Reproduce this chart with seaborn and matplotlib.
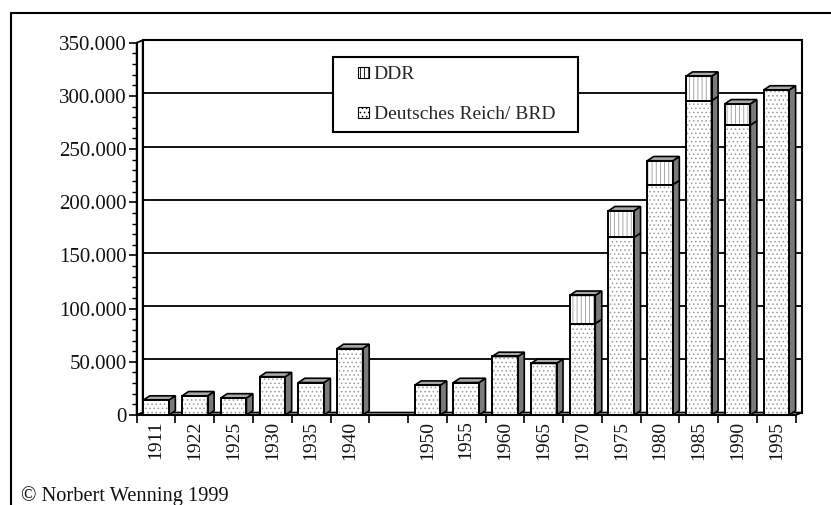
import matplotlib

matplotlib.use("Agg")
import matplotlib.pyplot as plt
from matplotlib.legend_handler import HandlerPatch
from matplotlib.lines import Line2D
from matplotlib.patches import Patch, Polygon, Rectangle
from matplotlib.ticker import FixedLocator, FuncFormatter, MultipleLocator
import pandas as pd
import seaborn as sns

# values
YEARS = ["1911", "1922", "1925", "1930", "1935", "1940", "", "1950", "1955",
         "1960", "1965", "1970", "1975", "1980", "1985", "1990", "1995"]
BRD = [14000, 18000, 16000, 36000, 30500, 62500, 0, 28000, 30500,
       55000, 48500, 86000, 167000, 216500, 295500, 272500, 305500]
DDR = [0, 0, 0, 0, 0, 0, 0, 0, 0,
       0, 0, 26500, 25000, 22500, 23000, 20000, 0]

LABEL_DDR = "DDR"
LABEL_BRD = "Deutsches Reich/ BRD"
COPYRIGHT = "© Norbert Wenning 1999"

HATCH_GRAY = "#9a9a9a"
SIDE_GRAY = "#7a7a7a"
TOP_GRAY = "#a8a8a8"
FONT = 15

# pixel geometry of the pseudo-3D look
W, H = 831, 505
BAR_DEPTH = (6.5, 4.3)
WALL_DEPTH = (6.0, 2.4)


def px_to_data(ax, dx, dy):
    inv = ax.transData.inverted()
    x0, y0 = ax.transData.transform((0, 0))
    x1, y1 = inv.transform((x0 + dx, y0 + dy))
    return x1, y1


def square_handle(legend, orig_handle, xdescent, ydescent, width, height, fontsize):
    side = 0.56 * fontsize
    return Rectangle((-xdescent + width - side, -ydescent + (height - side) / 2), side, side)


def main() -> None:
    sns.set_theme(style="white")
    plt.rcParams["font.family"] = ["Liberation Serif", "DejaVu Serif"]
    plt.rcParams["hatch.linewidth"] = 0.6

    fig = plt.figure(figsize=(W / 100, H / 100), dpi=100)
    ax = fig.add_axes([136.7 / W, 90 / H, 659 / W, 372.3 / H])
    ax.set_facecolor("none")

    df = pd.DataFrame({
        "jahr": YEARS,
        "brd": BRD,
        "gesamt": [b + d for b, d in zip(BRD, DDR)],
    })

    sns.barplot(data=df, x="jahr", y="gesamt", order=YEARS, color="white", saturation=1,
                width=0.66, hatch="||||", edgecolor=HATCH_GRAY, linewidth=0,
                errorbar=None, ax=ax, zorder=3)
    sns.barplot(data=df, x="jahr", y="brd", order=YEARS, color="white", saturation=1,
                width=0.66, hatch="....", edgecolor=HATCH_GRAY, linewidth=0,
                errorbar=None, ax=ax, zorder=3)

    n = len(YEARS)
    ax.set_xlim(-0.5, n - 0.5)
    ax.set_ylim(0, 350000)

    bdx, bdy = px_to_data(ax, *BAR_DEPTH)
    wdx, wdy = px_to_data(ax, *WALL_DEPTH)

    # back wall, left wall, floor and gridlines
    ymax = 350000
    ax.add_patch(Polygon([(-0.5, 0), (-0.5, ymax), (-0.5 + wdx, ymax + wdy), (-0.5 + wdx, wdy)],
                         facecolor="white", edgecolor="black", lw=1.3, zorder=1.2, clip_on=False))
    ax.add_patch(Polygon([(-0.5, 0), (n - 0.5, 0), (n - 0.5 + wdx, wdy), (-0.5 + wdx, wdy)],
                         facecolor="white", edgecolor="black", lw=1.3, zorder=1.2, clip_on=False))
    ax.add_patch(Rectangle((-0.5 + wdx, wdy), n, ymax, fill=False, edgecolor="black",
                           lw=1.5, zorder=1.1, clip_on=False))
    ax.hlines([v + wdy for v in range(50000, 350001, 50000)], -0.5 + wdx, n - 0.5 + wdx,
              color="black", lw=1.3, zorder=1, clip_on=False)

    total_bars = ax.patches[:n]
    brd_bars = ax.patches[n:2 * n]
    for pt, pb in zip(total_bars, brd_bars):
        x, w = pb.get_x(), pb.get_width()
        hb, ht = pb.get_height(), pt.get_height()
        if ht <= 0:
            continue
        segments = [(0, hb)]
        if ht > hb:
            segments.append((hb, ht))
        for lo, hi in segments:
            ax.add_patch(Rectangle((x, lo), w, hi - lo, fill=False, edgecolor="black",
                                   lw=1.4, zorder=5, clip_on=False))
            ax.add_patch(Polygon([(x + w, lo), (x + w, hi), (x + w + bdx, hi + bdy), (x + w + bdx, lo + bdy)],
                                 facecolor=SIDE_GRAY, edgecolor="black", lw=1.2, zorder=4, clip_on=False))
        ax.add_patch(Polygon([(x, ht), (x + w, ht), (x + w + bdx, ht + bdy), (x + bdx, ht + bdy)],
                             facecolor=TOP_GRAY, edgecolor="black", lw=1.2, zorder=4, clip_on=False))

    # axes styling
    for side in ["top", "right"]:
        ax.spines[side].set_visible(False)
    for side in ["left", "bottom"]:
        ax.spines[side].set_color("black")
        ax.spines[side].set_linewidth(1.5)
        ax.spines[side].set_zorder(6)

    ax.yaxis.set_major_locator(MultipleLocator(50000))
    ax.yaxis.set_minor_locator(MultipleLocator(10000))
    ax.yaxis.set_major_formatter(FuncFormatter(lambda v, _: f"{v:,.0f}".replace(",", ".")))
    ax.tick_params(axis="y", which="major", direction="out", length=6, width=1.2,
                   color="black", labelsize=FONT, labelcolor="#111111", pad=1, left=True)
    ax.tick_params(axis="y", which="minor", direction="out", length=3.5, width=1.0,
                   color="black", left=True)

    ax.xaxis.set_minor_locator(FixedLocator([i - 0.5 for i in range(n + 1)]))
    ax.tick_params(axis="x", which="major", length=0, labelsize=FONT - 1, labelcolor="#111111",
                   rotation=90, pad=4)
    ax.tick_params(axis="x", which="minor", direction="out", length=6, width=1.2,
                   color="black", bottom=True)
    ax.set_xlabel("")
    ax.set_ylabel("")
    ax.grid(False)

    handles = [
        Patch(facecolor="white", edgecolor="black", hatch="||||", lw=0.8, label=LABEL_DDR),
        Patch(facecolor="white", edgecolor="black", hatch="....", lw=0.8, label=LABEL_BRD),
    ]
    leg = ax.legend(handles=handles, loc="upper left", mode="expand", borderaxespad=0,
                    bbox_to_anchor=(333 / W, 1 - 133 / H, 245 / W, 76 / H),
                    bbox_transform=fig.transFigure,
                    fontsize=FONT - 1, frameon=True, fancybox=False, framealpha=1,
                    edgecolor="black", borderpad=0.45, labelspacing=1.15,
                    handlelength=1.4, handleheight=0.7, handletextpad=0.25,
                    handler_map={Patch: HandlerPatch(patch_func=square_handle)})
    leg.get_frame().set_linewidth(1.5)
    leg.set_zorder(10)

    # outer frame and copyright
    fig.add_artist(Line2D([11 / W, 11 / W], [0, 1 - 13 / H], color="black", lw=1.5))
    fig.add_artist(Line2D([11 / W, 1], [1 - 13 / H, 1 - 13 / H], color="black", lw=1.5))
    fig.text(21 / W, 4 / H, COPYRIGHT, fontsize=FONT - 0.3, color="#111111", va="baseline", ha="left")

    fig.savefig("out.png", dpi=100)
    plt.close(fig)


if __name__ == "__main__":
    main()
